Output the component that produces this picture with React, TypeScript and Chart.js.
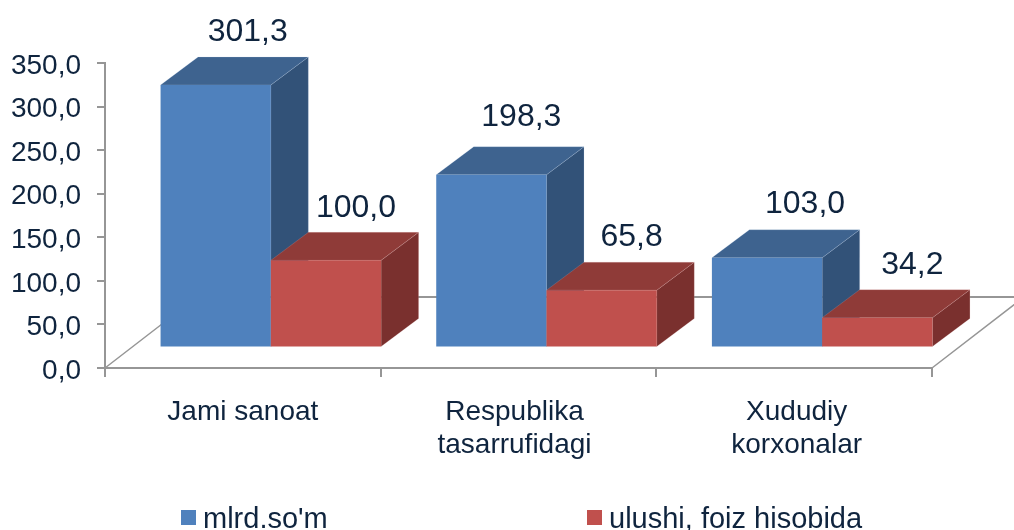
import React, { useEffect, useRef } from "react";
import { Chart, registerables } from "chart.js";

Chart.register(...registerables);

const categories = [["Jami sanoat"], ["Respublika", "tasarrufidagi"], ["Xududiy", "korxonalar"]];
const seriesNames = ["mlrd.so'm", "ulushi, foiz hisobida"];
const mlrdSom = [301.3, 198.3, 103.0];
const ulushi = [100.0, 65.8, 34.2];

const FONT = '"Liberation Sans", Arial, sans-serif';
const TEXT = "#0F243E";
const AXIS = "#969696";
const FRONT = ["#4F81BD", "#C0504D"];
const TOP = ["#3E638F", "#8F3B38"];
const SIDE = ["#325278", "#7A302E"];
const EDGE = ["rgba(190,210,235,0.2)", "rgba(235,190,190,0.18)"];
const BAR_SHIFT = { x: 28, y: -20.5 };
const DEPTH = { x: 37.5, y: -28 };
const FLOOR = { x: 92, y: -71 };
const LABEL_NUDGE = [
  [[32, -52.5], [30, -57.5], [38, -53.5]],
  [[30, -52.5], [30, -52.5], [35, -52.5]],
];
const CATEGORY_NUDGE = [0, -4, 2.5];
const Y_TICK_NUDGE = 3;
const LEGEND_POS = [{ box: 181, text: 203 }, { box: 587, text: 609 }];

const fmt = (v: number) => v.toFixed(1).replace(".", ",");

function drawFace(ctx: any, pts: number[][], fill: string, edge: string) {
  ctx.fillStyle = fill;
  ctx.strokeStyle = edge;
  ctx.lineWidth = 1;
  ctx.beginPath();
  pts.forEach(([x, y], k) => (k ? ctx.lineTo(x, y) : ctx.moveTo(x, y)));
  ctx.closePath();
  ctx.fill();
  ctx.stroke();
}

const bar3d = {
  id: "bar3d",
  beforeDraw(chart: any) {
    chart.scales.y.getLabelItems().forEach((it: any) => {
      if (!it.__moved) {
        it.options.translation = [it.options.translation[0], it.options.translation[1] + Y_TICK_NUDGE];
        it.__moved = true;
      }
    });
    chart.scales.x.getLabelItems().forEach((it: any, k: number) => {
      if (!it.__moved) {
        it.options.translation = [it.options.translation[0] + CATEGORY_NUDGE[k], it.options.translation[1]];
        it.__moved = true;
      }
    });
  },
  beforeDatasetsDraw(chart: any) {
    const { ctx, chartArea: a } = chart;
    ctx.save();
    ctx.strokeStyle = AXIS;
    ctx.lineWidth = 1.5;
    ctx.beginPath();
    ctx.moveTo(a.left, a.bottom);
    ctx.lineTo(a.left + FLOOR.x, a.bottom + FLOOR.y);
    ctx.moveTo(a.right, a.bottom);
    ctx.lineTo(a.right + FLOOR.x, a.bottom + FLOOR.y);
    ctx.stroke();
    ctx.lineWidth = 2;
    ctx.beginPath();
    ctx.moveTo(a.left + FLOOR.x, a.bottom + FLOOR.y);
    ctx.lineTo(a.right + FLOOR.x, a.bottom + FLOOR.y);
    ctx.stroke();
    ctx.restore();
  },
  // The library paints datasets last-to-first; the 3D overlap needs first-to-last.
  beforeDatasetDraw() {
    return false;
  },
  afterDatasetsDraw(chart: any) {
    const { ctx } = chart;
    ctx.save();
    ctx.translate(BAR_SHIFT.x, BAR_SHIFT.y);
    chart.data.datasets.forEach((_: any, i: number) => {
      chart.getDatasetMeta(i).data.forEach((el: any) => {
        const l = el.x - el.width / 2;
        const r = el.x + el.width / 2;
        const t = el.y;
        const b = el.base;
        drawFace(ctx, [[r, t], [r + DEPTH.x, t + DEPTH.y], [r + DEPTH.x, b + DEPTH.y], [r, b]], SIDE[i], EDGE[i]);
        drawFace(ctx, [[l, t], [l + DEPTH.x, t + DEPTH.y], [r + DEPTH.x, t + DEPTH.y], [r, t]], TOP[i], EDGE[i]);
        el.draw(ctx);
      });
    });
    ctx.restore();

    ctx.save();
    ctx.font = `32px ${FONT}`;
    ctx.fillStyle = TEXT;
    ctx.textAlign = "center";
    ctx.textBaseline = "middle";
    chart.data.datasets.forEach((ds: any, i: number) => {
      chart.getDatasetMeta(i).data.forEach((el: any, j: number) => {
        const [dx, dy] = LABEL_NUDGE[i][j];
        ctx.fillText(fmt(ds.data[j]), el.x + BAR_SHIFT.x + dx, el.y + BAR_SHIFT.y + dy);
      });
    });
    ctx.restore();
  },
  afterDraw(chart: any) {
    const { ctx } = chart;
    ctx.save();
    ctx.font = `29px ${FONT}`;
    ctx.textBaseline = "alphabetic";
    ctx.textAlign = "left";
    chart.data.datasets.forEach((ds: any, i: number) => {
      ctx.fillStyle = FRONT[i];
      ctx.fillRect(LEGEND_POS[i].box, 510, 15, 15);
      ctx.fillStyle = TEXT;
      ctx.fillText(ds.label, LEGEND_POS[i].text, 528);
    });
    ctx.restore();
  },
};

export default function App() {
  const ref = useRef<HTMLCanvasElement>(null);
  useEffect(() => {
    const chart = new Chart(ref.current as HTMLCanvasElement, {
      type: "bar",
      data: {
        labels: categories as any,
        datasets: [
          { label: seriesNames[0], data: mlrdSom, backgroundColor: FRONT[0] },
          { label: seriesNames[1], data: ulushi, backgroundColor: FRONT[1] },
        ],
      },
      plugins: [bar3d as any],
      options: {
        responsive: false,
        animation: false,
        layout: { padding: { top: 63, right: 82, left: 0, bottom: 0 } },
        plugins: { legend: { display: false }, tooltip: { enabled: false }, title: { display: false } },
        datasets: { bar: { categoryPercentage: 0.8, barPercentage: 1 } },
        scales: {
          x: {
            grid: { drawOnChartArea: false, drawTicks: true, tickLength: 9, color: AXIS, lineWidth: 2 },
            border: { color: AXIS, width: 2 },
            ticks: { color: TEXT, font: { family: FONT, size: 28 }, maxRotation: 0, minRotation: 0, autoSkip: false, padding: 18 },
            afterFit(s: any) { s.height = 162; },
          },
          y: {
            min: 0,
            max: 350,
            grid: { drawOnChartArea: false, drawTicks: true, tickLength: 8, color: AXIS, lineWidth: 2 },
            border: { color: AXIS, width: 2 },
            ticks: { stepSize: 50, color: TEXT, font: { family: FONT, size: 28 }, padding: 16, callback: (v: any) => fmt(Number(v)) },
            afterFit(s: any) { s.width = 105; },
          },
        },
      },
    });
    return () => chart.destroy();
  }, []);
  return (
    <div style={{ position: "fixed", left: 0, top: 0, width: 1014, height: 530, background: "#fff", overflow: "hidden" }}>
      <canvas ref={ref} width={1014} height={530} style={{ display: "block" }} />
    </div>
  );
}
